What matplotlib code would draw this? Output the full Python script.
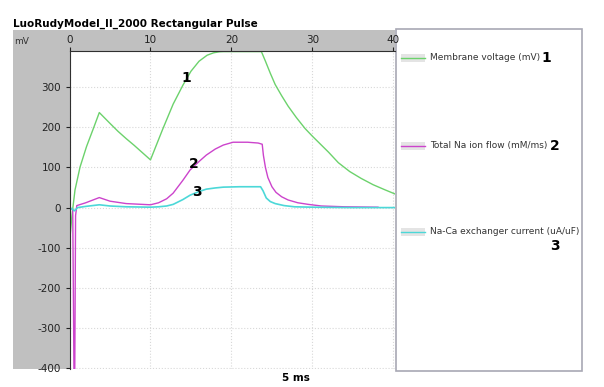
import matplotlib
matplotlib.use("Agg")
from matplotlib import pyplot as plt
from matplotlib.patches import Rectangle
from matplotlib.lines import Line2D

plt.rcParams["axes.unicode_minus"] = False

# dados (tempo em ms)
voltageTime = [0, 0.3, 0.68, 1.3, 2.1, 3.0, 3.68, 5, 6, 7, 8, 9, 10.0, 11.5, 12.8, 14.0, 15.0,
               16.0, 17.0, 17.8, 18.5, 19.0, 23.7, 24.2, 24.8, 25.4, 26.2, 27, 28, 29.1, 30, 31,
               32, 33.2, 34.6, 36, 37.5, 39, 40.2]
voltageValue = [-88, -20, 44, 101, 152, 200, 237, 210, 190, 172, 155, 137, 119, 195, 258, 305, 340,
                365, 380, 386, 388.5, 389, 389, 365, 335, 307, 279, 253, 225, 197, 178, 158,
                138, 112, 90, 73, 57, 44, 34]

naTime = [0, 0.4, 0.55, 0.65, 0.75, 0.9, 2, 3.68, 5, 7, 10, 11, 12, 12.8, 14, 14.9, 16, 16.9,
          18, 19, 20.2, 22, 23.3, 23.8, 23.95, 24.2, 24.5, 25, 25.5, 26.2, 27, 28.2, 29.5,
          31.1, 34, 38.1]
naValue = [0, -5, -410, -410, -20, 5, 12, 25, 16, 10, 7, 12, 22, 36, 68, 94, 115, 131,
           146, 156, 163, 163, 161, 158, 130, 100, 75, 52, 38, 27, 19, 12, 8,
           4, 2, 1]

ncxTime = [0, 0.3, 0.6, 1, 2, 3.68, 5, 7, 10, 11, 12, 12.8, 14, 14.9, 16, 16.9, 18, 19, 21,
           23.6, 23.9, 24.3, 24.8, 25.4, 26.5, 27.8, 30, 35, 40.2]
ncxValue = [0, -3, -8, 0, 3, 7, 4, 2, 1, 2, 4, 8, 20, 31, 40, 46, 49, 51, 52,
            52, 42, 24, 15, 10, 5, 2, 1, 0, 0]

legendNames = ["Membrane voltage (mV)", "Total Na ion flow (mM/ms)", "Na-Ca exchanger current (uA/uF)"]
colors = ["#6cd26c", "#cc44cc", "#4cd8d8"]

W, H = 604, 387


def fx(px):
    return px / W


def fy(py):
    return 1 - py / H


fig = plt.figure(figsize=(W / 100, H / 100), dpi=100)
fig.patch.set_facecolor("white")

# fundo cinza por tras do grafico
fig.patches.append(Rectangle((fx(13), fy(369)), fx(395) - fx(13), fy(30) - fy(369),
                             transform=fig.transFigure, facecolor="#c0c0c0", edgecolor="none", zorder=-2))

# painel da legenda
fig.patches.append(Rectangle((fx(396), fy(371)), fx(582) - fx(396), fy(29) - fy(371),
                             transform=fig.transFigure, facecolor="white", edgecolor="#a8a8b4",
                             linewidth=1.2, zorder=-2))

ax = fig.add_axes([fx(69.5), fy(369), fx(395) - fx(69.5), fy(51) - fy(369)])
ax.set_zorder(2)
ax.set_facecolor("white")

ax.plot(voltageTime, voltageValue, color=colors[0], linewidth=1)
ax.plot(naTime, naValue, color=colors[1], linewidth=1)
ax.plot(ncxTime, ncxValue, color=colors[2], linewidth=1.2)

ax.set_xlim(0, 40.2)
ax.set_ylim(-402.5, 390.5)
ax.set_xticks([0, 10, 20, 30, 40])
ax.set_yticks([-400, -300, -200, -100, 0, 100, 200, 300])
ax.grid(True, color="#d8d8d8", linestyle=":", linewidth=0.8)
ax.xaxis.tick_top()
ax.tick_params(axis="both", labelsize=7.5, colors="#222222", length=3, width=0.8)
ax.tick_params(axis="x", pad=1)
ax.tick_params(axis="y", pad=3)
for side in ["right", "bottom"]:
    ax.spines[side].set_visible(False)
for side in ["left", "top"]:
    ax.spines[side].set_color("#303030")

# numeros das curvas
ax.text(14.4, 322, "1", fontsize=10, fontweight="bold", ha="center", va="center")
ax.text(15.3, 108, "2", fontsize=10, fontweight="bold", ha="center", va="center")
ax.text(15.7, 38, "3", fontsize=10, fontweight="bold", ha="center", va="center")

fig.text(fx(13), fy(24), "LuoRudyModel_II_2000 Rectangular Pulse", fontsize=7.5,
         fontweight="bold", va="center", ha="left")
fig.text(fx(14), fy(42), "mV", fontsize=6.5, va="center", ha="left", color="#333333")
fig.text(fx(296), fy(378), "5 ms", fontsize=7.5, fontweight="bold", va="center", ha="center")

# legenda feita a mao
legendY = [58, 146, 232]
numberPos = [(546, 58), (555, 146), (555, 246)]
for i in range(3):
    y = legendY[i]
    fig.patches.append(Rectangle((fx(401), fy(y + 4)), fx(425) - fx(401), fy(y - 4) - fy(y + 4),
                                 transform=fig.transFigure, facecolor="#e4e4e4", edgecolor="none", zorder=1))
    fig.lines.append(Line2D([fx(401), fx(425)], [fy(y), fy(y)], transform=fig.transFigure,
                            color=colors[i], linewidth=1, zorder=2))
    fig.text(fx(430), fy(y), legendNames[i], fontsize=6.5, va="center", ha="left", color="#333333")
    fig.text(fx(numberPos[i][0]), fy(numberPos[i][1]), str(i + 1), fontsize=10,
             fontweight="bold", va="center", ha="center")

fig.savefig("out.png", dpi=100)
